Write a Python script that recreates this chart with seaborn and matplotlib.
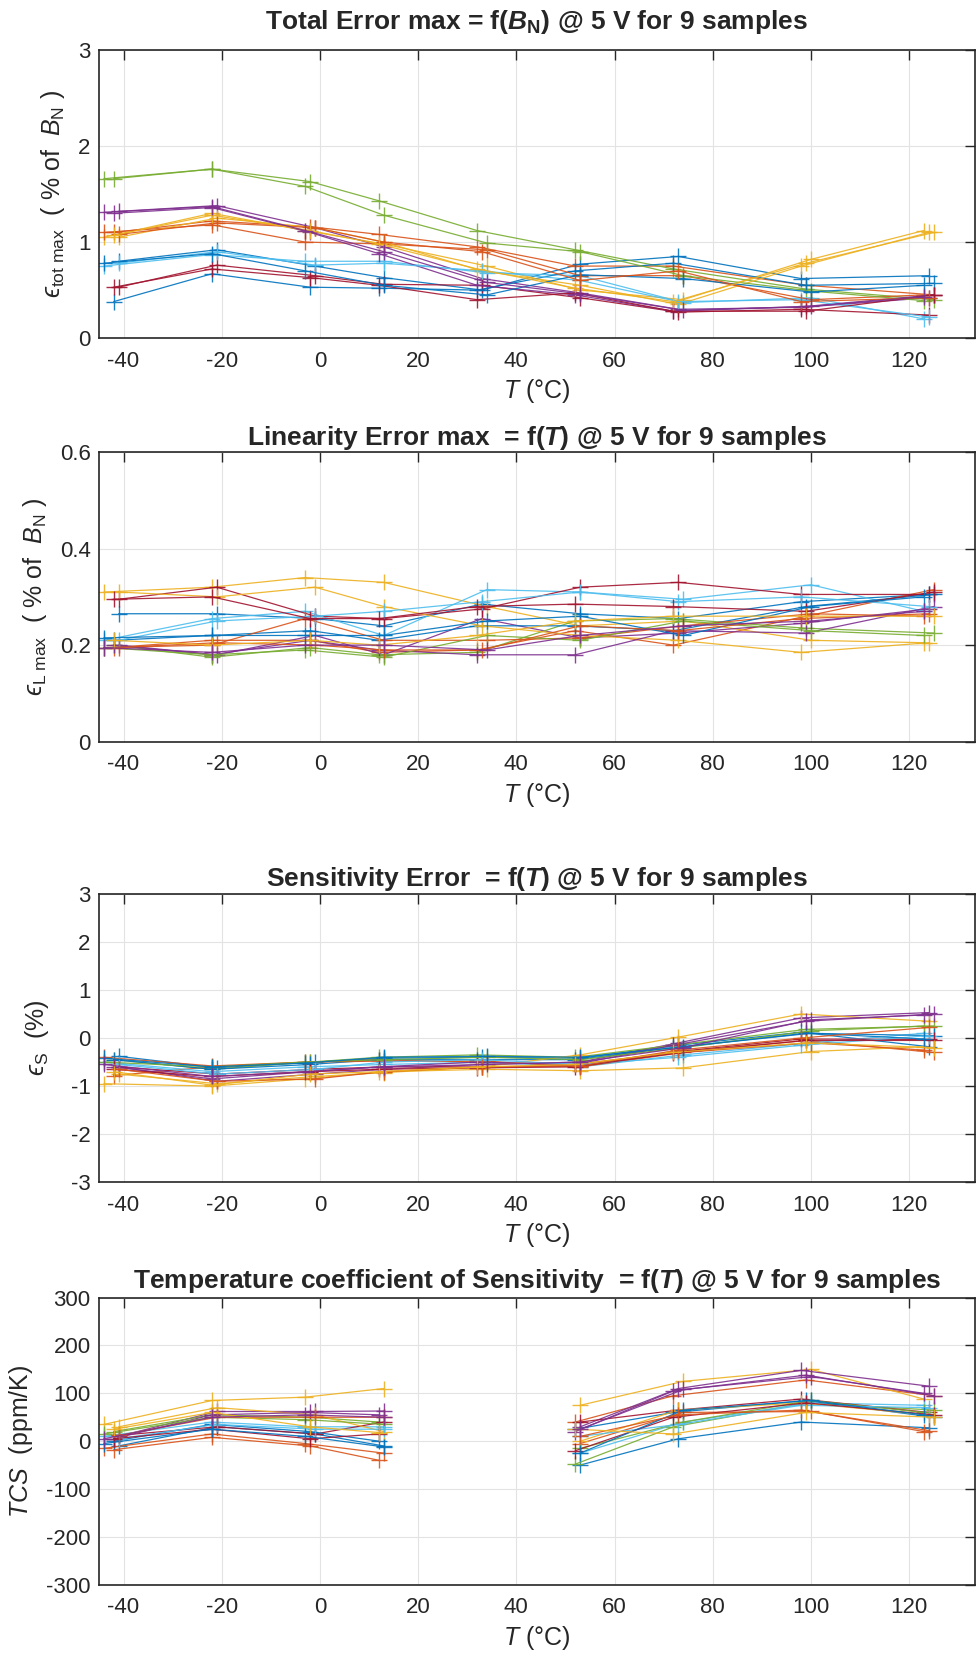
import numpy as np
import pandas as pd
import matplotlib.pyplot as plt
import seaborn as sns

# measured temperatures (three slightly different oven runs)
temp_runs = [
    [-41, -21, -1, 13, 33, 53, 73, 98, 124],
    [-42, -22, -2, 12, 32, 52, 72, 99, 125],
    [-44, -22, -3, 13, 34, 53, 74, 100, 123],
]

# MATLAB default colour order
matlab_colors = ['#0072BD', '#D95319', '#EDB120', '#7E2F8E',
                 '#77AC30', '#4DBEEE', '#A2142F']

tot_err = [
    [0.80, 0.92, 0.75, 0.63, 0.50, 0.77, 0.85, 0.62, 0.65],
    [1.10, 1.22, 1.16, 1.08, 0.95, 0.75, 0.75, 0.55, 0.45],
    [1.05, 1.30, 1.12, 0.98, 0.75, 0.50, 0.40, 0.82, 1.12],
    [1.32, 1.38, 1.15, 0.95, 0.62, 0.47, 0.30, 0.32, 0.42],
    [1.66, 1.76, 1.63, 1.43, 1.12, 0.92, 0.72, 0.51, 0.40],
    [0.75, 0.87, 0.80, 0.80, 0.68, 0.65, 0.37, 0.42, 0.20],
    [0.53, 0.76, 0.65, 0.56, 0.55, 0.42, 0.27, 0.30, 0.24],
    [0.38, 0.67, 0.53, 0.52, 0.50, 0.70, 0.78, 0.55, 0.57],
    [1.10, 1.18, 1.00, 0.98, 0.92, 0.65, 0.65, 0.40, 0.45],
    [1.05, 1.25, 1.15, 1.00, 0.70, 0.55, 0.35, 0.75, 1.10],
    [1.30, 1.36, 1.10, 0.88, 0.55, 0.45, 0.28, 0.33, 0.45],
    [1.66, 1.76, 1.58, 1.28, 0.99, 0.90, 0.65, 0.49, 0.39],
    [0.78, 0.90, 0.76, 0.78, 0.70, 0.60, 0.38, 0.40, 0.22],
    [0.53, 0.72, 0.63, 0.55, 0.40, 0.47, 0.28, 0.28, 0.45],
    [0.78, 0.88, 0.70, 0.55, 0.45, 0.66, 0.62, 0.48, 0.55],
    [1.08, 1.20, 1.15, 1.00, 0.90, 0.60, 0.70, 0.38, 0.42],
    [1.07, 1.28, 1.12, 0.98, 0.72, 0.52, 0.38, 0.78, 1.10],
    [1.31, 1.37, 1.12, 0.90, 0.58, 0.46, 0.29, 0.33, 0.43],
]

lin_err = [
    [0.265, 0.265, 0.255, 0.240, 0.285, 0.265, 0.255, 0.290, 0.305],
    [0.195, 0.210, 0.210, 0.185, 0.190, 0.230, 0.200, 0.260, 0.315],
    [0.310, 0.320, 0.340, 0.330, 0.280, 0.240, 0.250, 0.210, 0.205],
    [0.200, 0.180, 0.220, 0.180, 0.255, 0.215, 0.225, 0.245, 0.275],
    [0.200, 0.175, 0.195, 0.180, 0.185, 0.250, 0.255, 0.235, 0.225],
    [0.210, 0.255, 0.270, 0.220, 0.315, 0.310, 0.295, 0.325, 0.270],
    [0.295, 0.320, 0.260, 0.255, 0.275, 0.320, 0.330, 0.305, 0.305],
    [0.210, 0.220, 0.230, 0.210, 0.240, 0.240, 0.230, 0.280, 0.305],
    [0.195, 0.200, 0.255, 0.210, 0.210, 0.215, 0.240, 0.265, 0.260],
    [0.310, 0.300, 0.320, 0.280, 0.240, 0.220, 0.210, 0.185, 0.205],
    [0.200, 0.180, 0.210, 0.190, 0.180, 0.180, 0.230, 0.225, 0.280],
    [0.195, 0.180, 0.190, 0.175, 0.220, 0.210, 0.250, 0.230, 0.220],
    [0.210, 0.250, 0.260, 0.270, 0.290, 0.310, 0.290, 0.300, 0.280],
    [0.295, 0.300, 0.255, 0.255, 0.280, 0.285, 0.280, 0.270, 0.310],
    [0.215, 0.220, 0.220, 0.220, 0.250, 0.260, 0.220, 0.280, 0.300],
    [0.195, 0.205, 0.200, 0.190, 0.190, 0.240, 0.230, 0.255, 0.265],
    [0.210, 0.200, 0.210, 0.200, 0.220, 0.250, 0.260, 0.260, 0.260],
    [0.195, 0.185, 0.200, 0.200, 0.190, 0.220, 0.240, 0.250, 0.270],
]

sens_err = [
    [-0.38, -0.62, -0.50, -0.42, -0.40, -0.42, -0.15, 0.12, -0.18],
    [-0.78, -0.60, -0.50, -0.45, -0.50, -0.55, -0.30, -0.05, -0.30],
    [-0.95, -1.00, -0.85, -0.70, -0.65, -0.68, -0.62, -0.28, -0.18],
    [-0.60, -0.90, -0.75, -0.65, -0.55, -0.50, -0.10, 0.42, 0.53],
    [-0.45, -0.65, -0.50, -0.40, -0.35, -0.40, -0.15, 0.18, 0.25],
    [-0.50, -0.70, -0.60, -0.55, -0.50, -0.60, -0.35, -0.10, 0.10],
    [-0.60, -0.75, -0.65, -0.60, -0.60, -0.58, -0.28, -0.02, -0.03],
    [-0.45, -0.65, -0.55, -0.45, -0.45, -0.45, -0.20, 0.10, 0.05],
    [-0.40, -0.58, -0.50, -0.48, -0.48, -0.60, -0.30, -0.10, -0.25],
    [-0.75, -0.95, -0.80, -0.72, -0.60, -0.35, 0.02, 0.50, 0.35],
    [-0.60, -0.85, -0.70, -0.60, -0.50, -0.55, -0.15, 0.35, 0.50],
    [-0.50, -0.60, -0.50, -0.45, -0.40, -0.45, -0.20, 0.15, 0.25],
    [-0.55, -0.75, -0.65, -0.50, -0.45, -0.55, -0.40, -0.15, 0.05],
    [-0.65, -0.80, -0.70, -0.65, -0.62, -0.60, -0.32, -0.05, -0.05],
    [-0.42, -0.60, -0.52, -0.40, -0.38, -0.40, -0.18, 0.10, -0.02],
    [-0.65, -0.90, -0.85, -0.70, -0.60, -0.58, -0.25, 0.00, 0.22],
    [-0.70, -0.98, -0.75, -0.70, -0.60, -0.55, -0.30, -0.10, -0.20],
    [-0.55, -0.80, -0.70, -0.60, -0.55, -0.50, -0.20, 0.38, 0.48],
]

# TCS: no value at 33 degC (reference point)
tcs = [
    [-10, 30, 15, -10, None, -50, 5, 40, 28],
    [-18, 8, -10, -40, None, 40, 95, 128, 95],
    [35, 85, 92, 110, None, 75, 125, 150, 88],
    [10, 62, 62, 63, None, 30, 110, 148, 115],
    [20, 55, 50, 40, None, -48, 30, 80, 65],
    [10, 40, 30, 30, None, -25, 40, 80, 75],
    [12, 30, 15, 40, None, 40, 65, 88, 60],
    [0, 35, 20, 0, None, 25, 60, 85, 50],
    [-15, 15, -5, -25, None, -5, 60, 62, 20],
    [30, 70, 55, 20, None, 0, 65, 80, 55],
    [5, 55, 60, 55, None, 20, 105, 138, 95],
    [15, 50, 45, 35, None, -15, 40, 85, 60],
    [5, 35, 25, 25, None, 10, 35, 75, 70],
    [5, 25, 5, 15, None, -20, 50, 80, 55],
    [-5, 25, 10, -12, None, -25, 65, 85, 55],
    [12, 50, 50, 50, None, 10, 55, 65, 22],
    [25, 60, 30, 18, None, 25, 15, 60, 50],
    [5, 50, 55, 50, None, 25, 108, 135, 100],
]

titles = [
    r"Total Error max = f($\mathbfit{B}_{\mathbf{N}}$) @ 5 V for 9 samples",
    r"Linearity Error max  = f($\mathbfit{T}$) @ 5 V for 9 samples",
    r"Sensitivity Error  = f($\mathbfit{T}$) @ 5 V for 9 samples",
    r"Temperature coefficient of Sensitivity  = f($\mathbfit{T}$) @ 5 V for 9 samples",
]
eps = "\u03f5"
ylabels = [
    "$" + eps + r"_{\rm tot\ max}$  ( % of  $B_{\rm N}$ )",
    "$" + eps + r"_{\rm L\ max}$  ( % of  $B_{\rm N}$ )",
    "$" + eps + r"_{\rm S}$  (%)",
    r"$TCS$  (ppm/K)",
]
ylims = [(0, 3), (0, 0.6), (-3, 3), (-300, 300)]
yticks = [[0, 1, 2, 3], [0, 0.2, 0.4, 0.6], list(range(-3, 4)),
          list(range(-300, 301, 100))]
ytick_labels = [["0", "1", "2", "3"], ["0", "0.2", "0.4", "0.6"],
                [str(v) for v in range(-3, 4)],
                [str(v) for v in range(-300, 301, 100)]]
xticks = list(range(-40, 121, 20))


def to_long(rows):
    recs = []
    for i, row in enumerate(rows):
        temps = temp_runs[i % 3]
        seg = 0
        for t, v in zip(temps, row):
            if v is None:
                seg += 1  # gap in the curve
                continue
            recs.append({"T": t, "val": v, "line": i, "unit": i * 10 + seg})
    return pd.DataFrame(recs)


sns.set_theme(style="white")
plt.rcParams["font.family"] = ["Liberation Sans", "DejaVu Sans"]
plt.rcParams["mathtext.fontset"] = "custom"
plt.rcParams["mathtext.rm"] = "Liberation Sans"
plt.rcParams["mathtext.it"] = "Liberation Sans:italic"
plt.rcParams["mathtext.bf"] = "Liberation Sans:bold"
plt.rcParams["mathtext.bfit"] = "Liberation Sans:italic:bold"
plt.rcParams["mathtext.fallback"] = "stixsans"

fig = plt.figure(figsize=(9.77, 16.63), dpi=100)
left, width = 0.1013, 0.8966
bottoms = [0.7967, 0.5540, 0.2891, 0.0471]
heights = [0.1732, 0.1742, 0.1734, 0.1726]
labelpads = [8, 8, 14, 8]
title_pads = [15, 5, 6, 7]

palette = [matlab_colors[i % 7] for i in range(18)]
datasets = [tot_err, lin_err, sens_err, tcs]
axis_grey = "#262626"

for k, rows in enumerate(datasets):
    ax = fig.add_axes([left, bottoms[k], width, heights[k]])
    df = to_long(rows)
    sns.lineplot(data=df, x="T", y="val", hue="line", units="unit",
                 estimator=None, sort=False, palette=palette, legend=False,
                 marker="+", markersize=12, lw=0.9, alpha=0.9, ax=ax)
    for ln in ax.get_lines():
        ln.set_markeredgecolor(ln.get_color())
        ln.set_markeredgewidth(1.0)

    ax.set_xlim(-45, 133.4)
    ax.set_ylim(*ylims[k])
    ax.set_xticks(xticks)
    ax.set_xticklabels([str(v) for v in xticks])
    ax.set_yticks(yticks[k])
    ax.set_yticklabels(ytick_labels[k])
    ax.grid(True, color="#e3e3e3", lw=0.8)
    ax.set_axisbelow(True)
    for sp in ax.spines.values():
        sp.set_visible(True)
        sp.set_color(axis_grey)
        sp.set_linewidth(1.2)
    ax.tick_params(axis="both", direction="in", length=7, width=1.0,
                   top=True, right=True, colors=axis_grey, labelsize=16)
    ax.tick_params(axis="x", pad=9)
    ax.tick_params(axis="y", pad=6)
    ax.set_title(titles[k], fontsize=19, fontweight="bold", pad=title_pads[k])
    ax.set_xlabel(r"$T$ (°C)", fontsize=18, color=axis_grey, labelpad=4)
    ax.set_ylabel(ylabels[k], fontsize=18, color=axis_grey,
                  labelpad=labelpads[k])

fig.savefig("out.png", dpi=100)
